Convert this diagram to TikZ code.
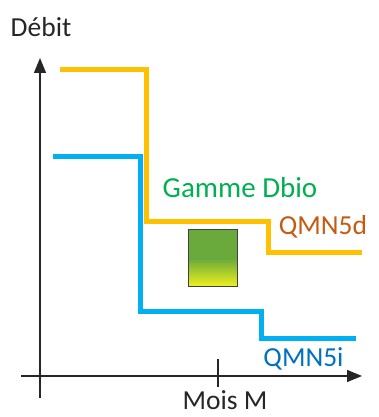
\documentclass[tikz,border=0pt]{standalone}
\usepackage{fontspec}
\setmainfont{Carlito}
\usetikzlibrary{positioning, arrows.meta}
\definecolor{qmnorange}{HTML}{FFC000}
\definecolor{qmnblue}{HTML}{00B0F0}
\definecolor{dbiogreen}{HTML}{00B050}
\definecolor{labelorange}{HTML}{C55A11}
\definecolor{labelblue}{HTML}{0070C0}
\definecolor{boxgreen}{HTML}{6AAA3C}
\definecolor{boxyellow}{HTML}{F2F21C}
\tikzset{
  axisline/.style={line width=1.3pt, black!85},
  axisarrow/.style={-{Triangle[length=15pt, width=12pt]}, line width=1.3pt, black!85},
  stepline/.style={line width=5pt, line join=miter},
  lbl/.style={font=\fontsize{27.5}{30}\selectfont, inner sep=0pt, anchor=base},
  dbiobox/.style={
    draw=black!75, line width=1pt,
    minimum width=49pt, minimum height=57pt, inner sep=0pt,
    path picture={
      \fill[boxgreen] (path picture bounding box.north west) rectangle (path picture bounding box.east);
      \shade[top color=boxgreen, bottom color=boxyellow] (path picture bounding box.west) rectangle (path picture bounding box.south east);
    }
  }
}

\begin{document}
\begin{tikzpicture}[x=1pt, y=1pt]
\useasboundingbox (0,0) rectangle (378,417);

% Axes
\coordinate (yaxis_bot) at (40, 19);
\coordinate (yaxis_top) at (40, 359);
\coordinate (xaxis_left) at (21, 41);
\coordinate (xaxis_right) at (362, 41);
\draw[axisarrow] (yaxis_bot) -- (yaxis_top);
\draw[axisarrow] (xaxis_left) -- (xaxis_right);

% Tick Mois M
\coordinate (tick_top) at (218, 58);
\coordinate (tick_bot) at (218, 30);
\draw[axisline] (tick_bot) -- (tick_top);

\node[lbl, text=black!85] (debit) at (41, 380) {Débit};
\node[lbl, text=black!85] (mois) at (225, 7) {Mois M};

% Courbe QMN5d
\draw[stepline, qmnorange] (60, 347) -- (146, 347) -- (146, 195) -- (268, 195) -- (268, 164) -- (362, 164);
\node[lbl, text=labelorange] (qmnd) at (323, 182) {QMN5d};

% Courbe QMN5i
\draw[stepline, qmnblue] (53, 260) -- (140, 260) -- (140, 105) -- (261, 105) -- (261, 78) -- (356, 78);
\node[lbl, text=labelblue] (qmni) at (303.5, 50) {QMN5i};

% Gamme Dbio
\node[dbiobox] (dbio) at (212.5, 158.5) {};
\node[lbl, text=dbiogreen, font=\fontsize{29}{32}\selectfont] (gamme) at (240, 219) {Gamme Dbio};

\end{tikzpicture}
\end{document}
